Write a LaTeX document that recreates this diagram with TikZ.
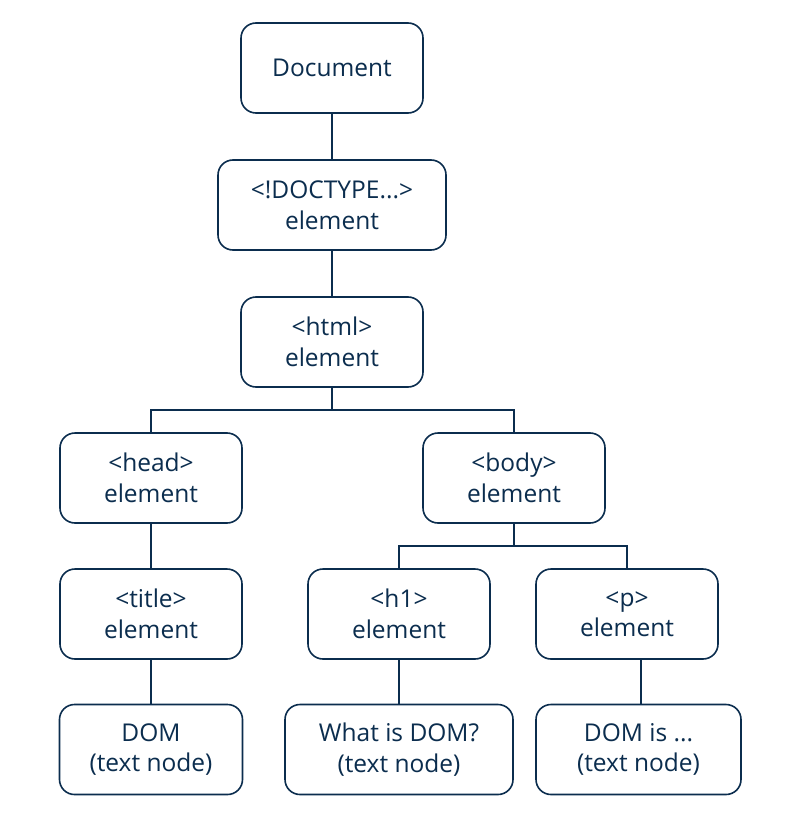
\documentclass[tikz,border=0pt]{standalone}
\usepackage{fontspec}
\setmainfont{Open Sans}
\definecolor{navy}{HTML}{0B2D4E}
\begin{document}
\begin{tikzpicture}[x=1pt,y=-1pt,
  box/.style={draw=navy, line width=1.6pt, rounded corners=15pt, minimum height=90pt, text=navy, align=center, font=\fontsize{24.5}{30.5}\selectfont, inner sep=0pt},
  conn/.style={draw=navy, line width=1.7pt}]
\useasboundingbox[fill=white] (0,0) rectangle (790,818);
\node[box, minimum width=182pt] (doc) at (332,68) {Document};
\node[box, minimum width=228pt] (dt) at (332,205) {<!DOCTYPE...>\\element};
\node[box, minimum width=182pt] (html) at (332,342) {<html>\\element};
\node[box, minimum width=182pt] (head) at (151,478) {<head>\\element};
\node[box, minimum width=182pt] (body) at (514,478) {<body>\\element};
\node[box, minimum width=182pt] (title) at (151,614) {<title>\\element};
\node[box, minimum width=182pt] (h1) at (399,614) {<h1>\\element};
\node[box, minimum width=182pt] (p) at (627,614) {<p>\\element};
\node[box, minimum width=183pt] (t1) at (151,749.5) {DOM\\(text node)};
\node[box, minimum width=228pt] (t2) at (399,749.5) {What is DOM?\\(text node)};
\node[box, minimum width=205pt] (t3) at (638.5,749.5) {DOM is ...\\(text node)};
\coordinate (j1) at (332,410);
\coordinate (j2) at (514,546);
\coordinate (pp) at (641,0);
\draw[conn] (doc.south) -- (dt.north);
\draw[conn] (dt.south) -- (html.north);
\draw[conn] (html.south) -- (j1);
\draw[conn] (head.north) |- (j1) -| (body.north);
\draw[conn] (body.south) -- (j2);
\draw[conn] (h1.north) |- (j2) -| (p.north);
\draw[conn] (head.south) -- (title.north);
\draw[conn] (title.south) -- (t1.north);
\draw[conn] (h1.south) -- (t2.north);
\draw[conn] (p.south -| pp) -- (t3.north -| pp);
\end{tikzpicture}
\end{document}
